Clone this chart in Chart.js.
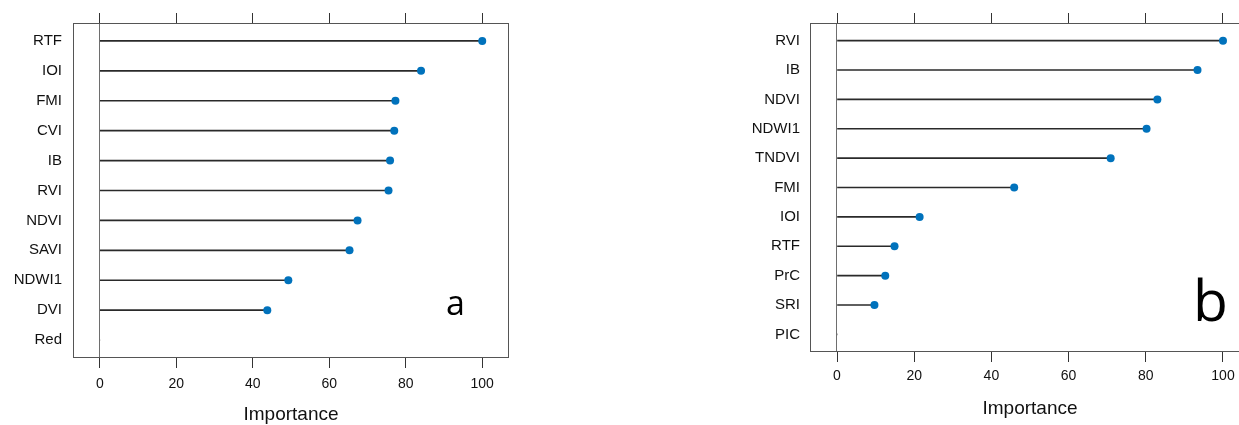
<!DOCTYPE html>
<html>
<head>
<meta charset="utf-8">
<script src="https://cdn.jsdelivr.net/npm/chart.js@4.4.1/dist/chart.umd.min.js"></script>
<style>
  html, body { margin: 0; padding: 0; background: #fff; width: 1239px; height: 425px; overflow: hidden; position: relative; }
  canvas { position: absolute; top: 0; }
  #ca { left: 0; }
  #cb { left: 730px; }
</style>
</head>
<body>
<canvas id="ca" width="530" height="425" style="width:530px;height:425px"></canvas>
<canvas id="cb" width="540" height="425" style="width:540px;height:425px"></canvas>
<script>
// ---- data ----
const catsA = ['RTF', 'IOI', 'FMI', 'CVI', 'IB', 'RVI', 'NDVI', 'SAVI', 'NDWI1', 'DVI', 'Red'];
const valsA = [100, 84.0, 77.3, 77.0, 75.9, 75.5, 67.4, 65.3, 49.3, 43.8, 0];
const catsB = ['RVI', 'IB', 'NDVI', 'NDWI1', 'TNDVI', 'FMI', 'IOI', 'RTF', 'PrC', 'SRI', 'PIC'];
const valsB = [100, 93.4, 83.0, 80.2, 70.9, 45.9, 21.4, 14.9, 12.5, 9.7, 0];
const xTicks = [0, 20, 40, 60, 80, 100];
const xTitle = 'Importance';
const panelLetters = ['a', 'b'];

const FONT = "'Liberation Sans', Arial, sans-serif";
const DOT = '#0072BC';

function boxPlugin(letter, letterFont, dx, dy) {
  return {
    id: 'box' + letter,
    afterDraw(chart) {
      const { ctx, chartArea: a, scales } = chart;
      ctx.save();
      // reference line at zero
      const x0 = Math.round(scales.x.getPixelForValue(0)) - 0.5;
      ctx.strokeStyle = '#6e6e6e';
      ctx.lineWidth = 1;
      ctx.beginPath();
      ctx.moveTo(x0, a.top);
      ctx.lineTo(x0, a.bottom);
      ctx.stroke();
      // panel box
      ctx.strokeStyle = '#555';
      ctx.strokeRect(Math.round(a.left) + 0.5, Math.round(a.top) + 0.5,
                     Math.round(a.right - a.left) - 1, Math.round(a.bottom - a.top) - 1);
      // panel letter
      ctx.fillStyle = '#000';
      ctx.font = letterFont;
      ctx.textBaseline = 'alphabetic';
      ctx.textAlign = 'left';
      ctx.fillText(letter, a.right + dx, a.bottom + dy);
      ctx.restore();
    }
  };
}

function makeChart(id, cats, vals, cfg) {
  const n = cats.length;
  const stems = vals.map((v, i) => ({ x: v, y: i + 1 }));
  const dots = vals.map((v, i) => ({ x: v, y: i + 1 }));
  return new Chart(document.getElementById(id), {
    type: 'bar',
    data: {
      datasets: [
        {
          type: 'scatter',
          data: dots,
          backgroundColor: DOT,
          borderColor: DOT,
          borderWidth: 0,
          pointRadius: ctx => (ctx.raw && ctx.raw.x === 0 ? 0 : 4),
          pointHoverRadius: 4,
          xAxisID: 'x',
          yAxisID: 'y',
          clip: false,
          order: 0
        },
        {
          type: 'bar',
          data: stems,
          backgroundColor: '#2a2a2a',
          borderWidth: 0,
          barThickness: 1,
          xAxisID: 'x',
          yAxisID: 'y',
          order: 1
        }
      ]
    },
    options: {
      indexAxis: 'y',
      responsive: false,
      devicePixelRatio: 1,
      animation: false,
      events: [],
      layout: { padding: { left: 0, right: cfg.padRight, top: 0, bottom: 0 } },
      plugins: { legend: { display: false }, tooltip: { enabled: false } },
      scales: {
        y: {
          type: 'linear',
          position: 'left',
          reverse: true,
          offset: false,
          min: 0.4,
          max: n + 0.6,
          afterBuildTicks: s => { s.ticks = cats.map((c, i) => ({ value: i + 1 })); },
          afterFit: s => { s.width = cfg.yWidth; },
          grid: { display: false, drawTicks: false, offset: false },
          border: { display: false },
          ticks: {
            autoSkip: false,
            padding: cfg.yPad,
            color: '#111',
            font: { family: FONT, size: 15 },
            callback: (v) => cats[Math.round(v) - 1] || ''
          }
        },
        x: {
          type: 'linear',
          position: 'bottom',
          min: -7,
          max: 107,
          afterBuildTicks: s => { s.ticks = xTicks.map(v => ({ value: v })); },
          afterFit: s => { s.height = cfg.bottomH; },
          grid: {
            drawOnChartArea: false,
            color: '#333',
            tickColor: '#333',
            tickLength: 10,
            lineWidth: 1
          },
          border: { display: false },
          ticks: {
            autoSkip: false,
            maxRotation: 0,
            padding: cfg.xPad,
            color: '#111',
            font: { family: FONT, size: 14 }
          },
          title: {
            display: true,
            text: xTitle,
            color: '#111',
            font: { family: FONT, size: 19, lineHeight: 1 },
            padding: { top: 0, bottom: cfg.titlePad }
          }
        },
        x2: {
          type: 'linear',
          position: 'top',
          min: -7,
          max: 107,
          afterBuildTicks: s => { s.ticks = xTicks.map(v => ({ value: v })); },
          afterFit: s => { s.height = cfg.topH; },
          grid: { drawOnChartArea: false, color: '#333', tickColor: '#333', tickLength: 10 },
          border: { display: false },
          ticks: { display: false }
        }
      }
    },
    plugins: [boxPlugin(cfg.letter, cfg.letterFont, cfg.ldx, cfg.ldy)]
  });
}

makeChart('ca', catsA, valsA, {
  padRight: 21, yWidth: 73, yPad: 11, bottomH: 67, topH: 23, xPad: 8, titlePad: 1,
  letter: panelLetters[0], letterFont: "34px 'Open Sans', sans-serif", ldx: -63, ldy: -43
});
makeChart('cb', catsB, valsB, {
  padRight: 20, yWidth: 80, yPad: 10, bottomH: 73, topH: 23, xPad: 6, titlePad: 7,
  letter: panelLetters[1], letterFont: "57px 'Open Sans', sans-serif", ldx: -57, ldy: -31
});
</script>
</body>
</html>
